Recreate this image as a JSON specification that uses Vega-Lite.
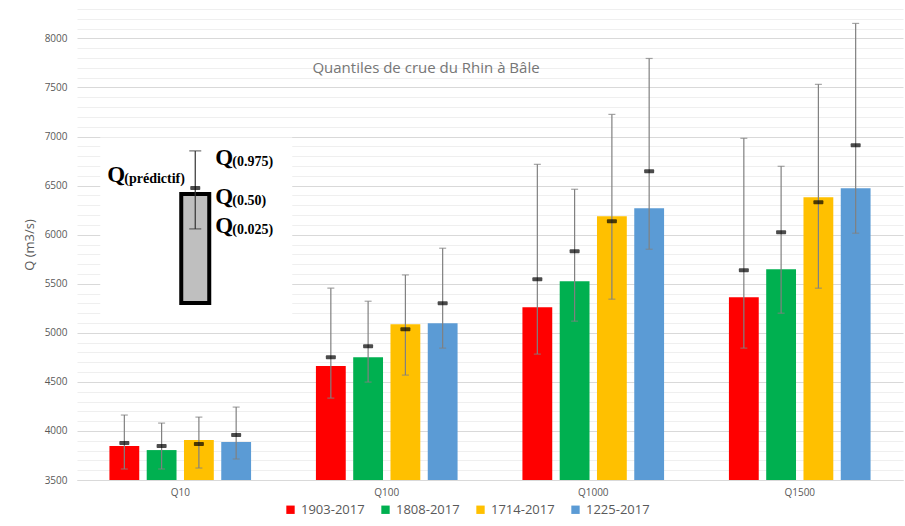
{
  "$schema": "https://vega.github.io/schema/vega-lite/v6.json",
  "width": 826,
  "height": 471,
  "autosize": "none",
  "padding": {"left": 77, "top": 9, "right": 2, "bottom": 46},
  "background": "white",
  "config": {
    "view": {"stroke": null},
    "font": "Open Sans",
    "axis": {"labelOverlap": false}
  },
  "title": {
    "text": "Quantiles de crue du Rhin à Bâle",
    "anchor": "middle",
    "dx": -64,
    "dy": 76,
    "fontSize": 15,
    "fontWeight": "normal",
    "color": "#767676",
    "font": "Open Sans"
  },
  "datasets": {
    "main": [
      {"q": "Q10", "period": "1903-2017", "value": 3846, "lo": 3612, "med": 3877, "hi": 4162},
      {"q": "Q10", "period": "1808-2017", "value": 3805, "lo": 3612, "med": 3846, "hi": 4080},
      {"q": "Q10", "period": "1714-2017", "value": 3907, "lo": 3622, "med": 3866, "hi": 4141},
      {"q": "Q10", "period": "1225-2017", "value": 3887, "lo": 3714, "med": 3958, "hi": 4243},
      {"q": "Q100", "period": "1903-2017", "value": 4661, "lo": 4335, "med": 4752, "hi": 5455},
      {"q": "Q100", "period": "1808-2017", "value": 4752, "lo": 4498, "med": 4864, "hi": 5322},
      {"q": "Q100", "period": "1714-2017", "value": 5088, "lo": 4569, "med": 5037, "hi": 5590},
      {"q": "Q100", "period": "1225-2017", "value": 5098, "lo": 4844, "med": 5302, "hi": 5862},
      {"q": "Q1000", "period": "1903-2017", "value": 5261, "lo": 4783, "med": 5546, "hi": 6717},
      {"q": "Q1000", "period": "1808-2017", "value": 5526, "lo": 5119, "med": 5831, "hi": 6463},
      {"q": "Q1000", "period": "1714-2017", "value": 6188, "lo": 5343, "med": 6137, "hi": 7226},
      {"q": "Q1000", "period": "1225-2017", "value": 6269, "lo": 5852, "med": 6646, "hi": 7796},
      {"q": "Q1500", "period": "1903-2017", "value": 5363, "lo": 4844, "med": 5638, "hi": 6982},
      {"q": "Q1500", "period": "1808-2017", "value": 5648, "lo": 5200, "med": 6025, "hi": 6697},
      {"q": "Q1500", "period": "1714-2017", "value": 6381, "lo": 5455, "med": 6330, "hi": 7532},
      {"q": "Q1500", "period": "1225-2017", "value": 6473, "lo": 6015, "med": 6911, "hi": 8153}
    ],
    "box": [
      {"q": "Q10", "lo": 5180, "hi": 6990}
    ],
    "inset": [
      {"q": "Q10", "base": 5304, "value": 6415, "lo": 6059, "med": 6476, "hi": 6854}
    ],
    "insetRight": [
      {"q": "Q10", "y": 6711, "main": "Q", "sub": "(0.975)"},
      {"q": "Q10", "y": 6313, "main": "Q", "sub": "(0.50)"},
      {"q": "Q10", "y": 6018, "main": "Q", "sub": "(0.025)"}
    ],
    "insetLeft": [
      {"q": "Q10", "y": 6537, "main": "Q", "sub": "(prédictif)"}
    ]
  },
  "encoding": {
    "x": {
      "field": "q",
      "type": "nominal",
      "sort": ["Q10", "Q100", "Q1000", "Q1500"],
      "scale": {"paddingInner": 0, "paddingOuter": 0},
      "axis": {
        "title": null,
        "labelAngle": 0,
        "labelFontSize": 10,
        "labelColor": "#595959",
        "labelPadding": 7,
        "ticks": false,
        "domainColor": "#d9d9d9",
        "grid": false
      }
    }
  },
  "layer": [
    {
      "data": {"name": "box"},
      "mark": {"type": "bar", "color": "white", "width": 192, "xOffset": 16},
      "encoding": {
        "y": {
          "field": "lo",
          "type": "quantitative",
          "scale": {"domain": [3500, 8300], "zero": false, "nice": false},
          "axis": {
            "title": "Q (m3/s)",
            "titleFontSize": 13,
            "titleFontWeight": "normal",
            "titleColor": "#595959",
            "titlePadding": 8,
            "tickCount": 48,
            "format": "d",
            "labelExpr": "datum.value % 500 === 0 ? datum.label : ''",
            "labelOverlap": false,
            "labelFontSize": 10,
            "labelColor": "#595959",
            "labelPadding": 10,
            "ticks": false,
            "domain": false,
            "grid": true,
            "gridColor": {"condition": {"test": "datum.value % 500 === 0", "value": "#d9d9d9"}, "value": "#efefef"},
            "gridWidth": 1
          }
        },
        "y2": {"field": "hi"}
      }
    },
    {
      "data": {"name": "main"},
      "mark": {"type": "bar"},
      "encoding": {
        "xOffset": {
          "field": "period",
          "type": "nominal",
          "sort": ["1903-2017", "1808-2017", "1714-2017", "1225-2017"],
          "scale": {"paddingInner": 0.2, "paddingOuter": 0.87}
        },
        "y": {"field": "value", "type": "quantitative"},
        "y2": {"datum": 3500},
        "color": {
          "field": "period",
          "type": "nominal",
          "sort": ["1903-2017", "1808-2017", "1714-2017", "1225-2017"],
          "scale": {
            "domain": ["1903-2017", "1808-2017", "1714-2017", "1225-2017"],
            "range": ["#ff0000", "#00b050", "#ffc000", "#5b9bd5"]
          },
          "legend": {
            "title": null,
            "orient": "none",
            "direction": "horizontal",
            "legendX": 207,
            "legendY": 494,
            "symbolType": "square",
            "symbolSize": 70,
            "symbolStrokeWidth": 0,
            "labelFontSize": 13,
            "labelColor": "#595959",
            "labelOffset": 4,
            "columnPadding": 14
          }
        }
      }
    },
    {
      "data": {"name": "main"},
      "mark": {"type": "rule", "color": "#808080", "strokeWidth": 1.2},
      "encoding": {
        "xOffset": {"field": "period", "type": "nominal", "sort": ["1903-2017", "1808-2017", "1714-2017", "1225-2017"]},
        "y": {"field": "lo", "type": "quantitative"},
        "y2": {"field": "hi"}
      }
    },
    {
      "data": {"name": "main"},
      "mark": {"type": "tick", "color": "#808080", "size": 7, "thickness": 1.2},
      "encoding": {
        "xOffset": {"field": "period", "type": "nominal", "sort": ["1903-2017", "1808-2017", "1714-2017", "1225-2017"]},
        "y": {"field": "lo", "type": "quantitative"}
      }
    },
    {
      "data": {"name": "main"},
      "mark": {"type": "tick", "color": "#808080", "size": 7, "thickness": 1.2},
      "encoding": {
        "xOffset": {"field": "period", "type": "nominal", "sort": ["1903-2017", "1808-2017", "1714-2017", "1225-2017"]},
        "y": {"field": "hi", "type": "quantitative"}
      }
    },
    {
      "data": {"name": "main"},
      "mark": {"type": "tick", "color": "#000000", "size": 10, "thickness": 4, "cornerRadius": 1},
      "encoding": {
        "xOffset": {"field": "period", "type": "nominal", "sort": ["1903-2017", "1808-2017", "1714-2017", "1225-2017"]},
        "y": {"field": "med", "type": "quantitative"}
      }
    },
    {
      "data": {"name": "inset"},
      "mark": {"type": "bar", "color": "#bfbfbf", "stroke": "#000000", "strokeWidth": 4, "width": 28, "xOffset": 15},
      "encoding": {
        "y": {"field": "value", "type": "quantitative"},
        "y2": {"field": "base"}
      }
    },
    {
      "data": {"name": "inset"},
      "mark": {"type": "rule", "color": "#333333", "strokeWidth": 1.2, "xOffset": 15},
      "encoding": {
        "y": {"field": "lo", "type": "quantitative"},
        "y2": {"field": "hi"}
      }
    },
    {
      "data": {"name": "inset"},
      "mark": {"type": "tick", "color": "#333333", "size": 12, "thickness": 1.2, "xOffset": 15},
      "encoding": {
        "y": {"field": "lo", "type": "quantitative"}
      }
    },
    {
      "data": {"name": "inset"},
      "mark": {"type": "tick", "color": "#333333", "size": 12, "thickness": 1.2, "xOffset": 15},
      "encoding": {
        "y": {"field": "hi", "type": "quantitative"}
      }
    },
    {
      "data": {"name": "inset"},
      "mark": {"type": "tick", "color": "#000000", "size": 10, "thickness": 4, "cornerRadius": 1, "xOffset": 15},
      "encoding": {
        "y": {"field": "med", "type": "quantitative"}
      }
    },
    {
      "data": {"name": "insetRight"},
      "mark": {"type": "text", "font": "Liberation Serif", "fontWeight": "bold", "fontSize": 23, "align": "left", "baseline": "alphabetic", "dx": 35, "color": "#000000"},
      "encoding": {
        "y": {"field": "y", "type": "quantitative"},
        "text": {"field": "main"}
      }
    },
    {
      "data": {"name": "insetRight"},
      "mark": {"type": "text", "font": "Liberation Serif", "fontWeight": "bold", "fontSize": 14, "align": "left", "baseline": "alphabetic", "dx": 52, "dy": 1, "color": "#000000"},
      "encoding": {
        "y": {"field": "y", "type": "quantitative"},
        "text": {"field": "sub"}
      }
    },
    {
      "data": {"name": "insetLeft"},
      "mark": {"type": "text", "font": "Liberation Serif", "fontWeight": "bold", "fontSize": 23, "align": "left", "baseline": "alphabetic", "dx": -73, "color": "#000000"},
      "encoding": {
        "y": {"field": "y", "type": "quantitative"},
        "text": {"field": "main"}
      }
    },
    {
      "data": {"name": "insetLeft"},
      "mark": {"type": "text", "font": "Liberation Serif", "fontWeight": "bold", "fontSize": 14, "align": "left", "baseline": "alphabetic", "dx": -56, "dy": 1, "color": "#000000"},
      "encoding": {
        "y": {"field": "y", "type": "quantitative"},
        "text": {"field": "sub"}
      }
    }
  ]
}
